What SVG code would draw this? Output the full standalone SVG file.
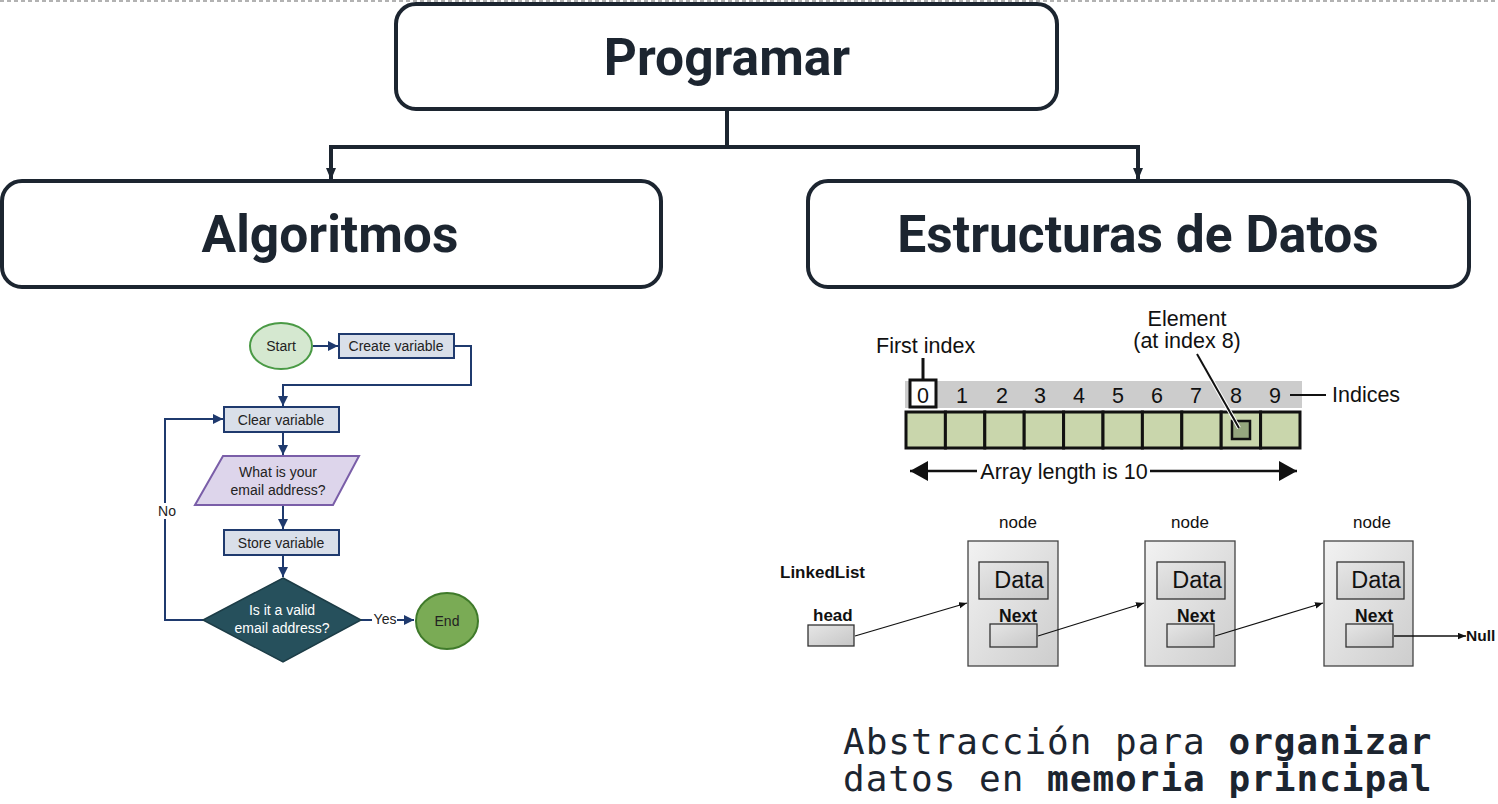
<svg xmlns="http://www.w3.org/2000/svg" width="1498" height="804" viewBox="0 0 1498 804">
<style>
.box{fill:#fff;stroke:#1c2530;stroke-width:4}
.big{font-family:Roboto,"Liberation Sans",sans-serif;font-weight:700;font-size:51.5px;fill:#1c2530;text-anchor:middle}
.conn{fill:none;stroke:#1c2530;stroke-width:4}
.fc{font-family:"Liberation Sans",Arial,sans-serif;font-size:14px;fill:#222;text-anchor:middle}
.fl{fill:none;stroke:#1f3a6e;stroke-width:2}
.rect{fill:#d9dfe9;stroke:#1f3a6e;stroke-width:2}
.arr{font-family:"Liberation Sans",Arial,sans-serif;font-size:21.5px;fill:#111}
.cell{fill:#c9d6ac;stroke:#111;stroke-width:3}
.ll{font-family:"Liberation Sans",Arial,sans-serif;fill:#111}
.nd{fill:url(#gn);stroke:#444;stroke-width:1.3}
.db{fill:url(#gd);stroke:#333;stroke-width:1.3}
.lk{fill:none;stroke:#111;stroke-width:1.3}
.mono{font-family:"DejaVu Sans Mono","Liberation Mono",monospace;font-size:36px;letter-spacing:1px;fill:#1c2530}
</style>
<defs>
<marker id="ah" viewBox="0 0 12 10" refX="12" refY="5" markerWidth="12" markerHeight="10" markerUnits="userSpaceOnUse" orient="auto">
<path d="M0,0 L12,5 L0,10 Z" fill="#1c2530"/>
</marker>
<marker id="fa" viewBox="0 0 10 10" refX="10" refY="5" markerWidth="10" markerHeight="10" markerUnits="userSpaceOnUse" orient="auto">
<path d="M0,0 L10,5 L0,10 Z" fill="#1f3a6e"/>
</marker>
<marker id="la" viewBox="0 0 10 8" refX="10" refY="4" markerWidth="8" markerHeight="7" markerUnits="userSpaceOnUse" orient="auto">
<path d="M0,0 L10,4 L0,8 Z" fill="#111"/>
</marker>
<marker id="ba" viewBox="0 0 18 20" refX="18" refY="10" markerWidth="18" markerHeight="20" markerUnits="userSpaceOnUse" orient="auto-start-reverse">
<path d="M0,0 L18,10 L0,20 Z" fill="#111"/>
</marker>
<linearGradient id="gn" x1="0" y1="0" x2="1" y2="1">
<stop offset="0" stop-color="#f2f2f2"/><stop offset="1" stop-color="#cdcdcd"/>
</linearGradient>
<linearGradient id="gd" x1="0" y1="0" x2="1" y2="1">
<stop offset="0" stop-color="#e6e6e6"/><stop offset="1" stop-color="#c6c6c6"/>
</linearGradient>
</defs>
<rect width="1498" height="804" fill="#fff"/>
<line x1="0" y1="1" x2="1498" y2="1" stroke="#999" stroke-width="1.5" stroke-dasharray="4,3"/>

<g id="connectors">
<path class="conn" d="M727,110 V147"/>
<path class="conn" d="M329,147 H1140"/>
<path class="conn" d="M331,147 V180" marker-end="url(#ah)"/>
<path class="conn" d="M1138,147 V180" marker-end="url(#ah)"/>
</g>

<g id="programar">
<rect class="box" x="396" y="4" width="661" height="105" rx="20"/>
<text class="big" x="727" y="75">Programar</text>
</g>
<g id="algoritmos">
<rect class="box" x="2" y="181" width="659" height="106" rx="20"/>
<text class="big" x="330" y="252">Algoritmos</text>
</g>
<g id="estructuras">
<rect class="box" x="808" y="181" width="661" height="106" rx="20"/>
<text class="big" x="1138" y="252">Estructuras de Datos</text>
</g>

<g id="flowchart">
<g id="fc-connectors">
<path class="fl" d="M313,346 H338" marker-end="url(#fa)"/>
<path class="fl" d="M454,346 H471 V385 H283 V406" marker-end="url(#fa)"/>
<path class="fl" d="M283,432 V455" marker-end="url(#fa)"/>
<path class="fl" d="M283,505 V529" marker-end="url(#fa)"/>
<path class="fl" d="M283,555 V577" marker-end="url(#fa)"/>
<path class="fl" d="M203,620 H165 V419 H223" marker-end="url(#fa)"/>
<path class="fl" d="M361,620 H372"/>
<path class="fl" d="M397,620 H414" marker-end="url(#fa)"/>
<rect x="156" y="503" width="22" height="16" fill="#fff"/>
<text class="fc" x="167" y="516" font-size="12">No</text>
<text class="fc" x="385" y="624" font-size="12">Yes</text>
</g>
<g id="fc-start">
<ellipse cx="281" cy="346" rx="31" ry="23" fill="#d5e8d0" stroke="#4a9a45" stroke-width="2"/>
<text class="fc" x="281" y="351">Start</text>
</g>
<g id="fc-create">
<rect class="rect" x="339" y="334" width="115" height="24"/>
<text class="fc" x="396" y="351">Create variable</text>
</g>
<g id="fc-clear">
<rect class="rect" x="224" y="407" width="115" height="25"/>
<text class="fc" x="281" y="424.5">Clear variable</text>
</g>
<g id="fc-input">
<polygon points="223,456 359,456 333,505 195,505" fill="#ddd5eb" stroke="#7a5ea8" stroke-width="2"/>
<text class="fc" x="278" y="477">What is your</text>
<text class="fc" x="278" y="495">email address?</text>
</g>
<g id="fc-store">
<rect class="rect" x="224" y="530" width="115" height="25"/>
<text class="fc" x="281" y="547.5">Store variable</text>
</g>
<g id="fc-decision">
<polygon points="283,578 361,620 283,662 203,620" fill="#26505c" stroke="#1c3c46" stroke-width="1.5"/>
<text class="fc" x="282" y="615" style="fill:#fff">Is it a valid</text>
<text class="fc" x="282" y="633" style="fill:#fff">email address?</text>
</g>
<g id="fc-end">
<ellipse cx="447" cy="621" rx="31" ry="28" fill="#7aab55" stroke="#3f7a2a" stroke-width="2"/>
<text class="fc" x="447" y="626">End</text>
</g>
</g>

<g id="array">
<text class="arr" x="876" y="353">First index</text>
<rect x="905" y="381" width="397" height="27" fill="#cccccc"/>
<line x1="923" y1="358" x2="923" y2="379" stroke="#111" stroke-width="3"/>
<rect x="910" y="380" width="26" height="27" fill="#fff" stroke="#111" stroke-width="3"/>
<g class="arr" text-anchor="middle">
<text x="923" y="403">0</text>
<text x="962" y="403">1</text>
<text x="1002" y="403">2</text>
<text x="1040" y="403">3</text>
<text x="1079" y="403">4</text>
<text x="1118" y="403">5</text>
<text x="1157" y="403">6</text>
<text x="1196" y="403">7</text>
<text x="1236" y="403">8</text>
<text x="1275" y="403">9</text>
</g>
<line x1="1290" y1="395" x2="1326" y2="395" stroke="#111" stroke-width="2"/>
<text class="arr" x="1332" y="402">Indices</text>
<g>
<rect class="cell" x="906" y="412" width="39.4" height="36"/>
<rect class="cell" x="945.4" y="412" width="39.4" height="36"/>
<rect class="cell" x="984.8" y="412" width="39.4" height="36"/>
<rect class="cell" x="1024.2" y="412" width="39.4" height="36"/>
<rect class="cell" x="1063.6" y="412" width="39.4" height="36"/>
<rect class="cell" x="1103" y="412" width="39.4" height="36"/>
<rect class="cell" x="1142.4" y="412" width="39.4" height="36"/>
<rect class="cell" x="1181.8" y="412" width="39.4" height="36"/>
<rect class="cell" x="1221.2" y="412" width="39.4" height="36"/>
<rect class="cell" x="1260.6" y="412" width="39.4" height="36"/>
</g>
<rect x="1232" y="421" width="18" height="18" fill="#95a67e" stroke="#111" stroke-width="2.5"/>
<text class="arr" x="1187" y="326" text-anchor="middle" font-size="20.5">Element</text>
<text class="arr" x="1187" y="348" text-anchor="middle" font-size="20.5">(at index 8)</text>
<line x1="1197" y1="354" x2="1239" y2="428" stroke="#fff" stroke-width="4"/>
<line x1="1197" y1="354" x2="1239" y2="428" stroke="#111" stroke-width="2"/>
<line x1="910" y1="471" x2="977" y2="471" stroke="#111" stroke-width="2.5" marker-start="url(#ba)"/>
<line x1="1150" y1="471" x2="1297" y2="471" stroke="#111" stroke-width="2.5" marker-end="url(#ba)"/>
<text class="arr" x="1064" y="479" text-anchor="middle">Array length is 10</text>
</g>

<g id="linkedlist">
<text class="ll" x="780" y="578" font-size="17" font-weight="700">LinkedList</text>
<g id="ll-head">
<text class="ll" x="813" y="621" font-size="17" font-weight="700">head</text>
<rect class="db" x="808" y="625" width="46" height="21"/>
</g>
<g id="ll-node1">
<text class="ll" x="1018" y="528" font-size="17" text-anchor="middle">node</text>
<rect class="nd" x="968" y="541" width="90" height="125"/>
<rect class="db" x="979" y="562" width="69" height="37"/>
<text class="ll" x="1019" y="588" font-size="23.5" text-anchor="middle">Data</text>
<text class="ll" x="1018" y="622" font-size="17.5" font-weight="700" text-anchor="middle">Next</text>
<rect class="db" x="990" y="624" width="47" height="23"/>
</g>
<g id="ll-node2">
<text class="ll" x="1190" y="528" font-size="17" text-anchor="middle">node</text>
<rect class="nd" x="1145" y="541" width="90" height="125"/>
<rect class="db" x="1157" y="562" width="68" height="37"/>
<text class="ll" x="1197" y="588" font-size="23.5" text-anchor="middle">Data</text>
<text class="ll" x="1196" y="622" font-size="17.5" font-weight="700" text-anchor="middle">Next</text>
<rect class="db" x="1167" y="624" width="47" height="23"/>
</g>
<g id="ll-node3">
<text class="ll" x="1372" y="528" font-size="17" text-anchor="middle">node</text>
<rect class="nd" x="1324" y="541" width="89" height="125"/>
<rect class="db" x="1337" y="562" width="67" height="37"/>
<text class="ll" x="1376" y="588" font-size="23.5" text-anchor="middle">Data</text>
<text class="ll" x="1374" y="622" font-size="17.5" font-weight="700" text-anchor="middle">Next</text>
<rect class="db" x="1346" y="624" width="47" height="23"/>
</g>
<g id="ll-connectors">
<line class="lk" x1="855" y1="636" x2="967" y2="603" marker-end="url(#la)"/>
<line class="lk" x1="1038" y1="636" x2="1144" y2="603" marker-end="url(#la)"/>
<line class="lk" x1="1215" y1="636" x2="1323" y2="603" marker-end="url(#la)"/>
<line class="lk" x1="1394" y1="636" x2="1466" y2="636" marker-end="url(#la)"/>
</g>
<text class="ll" x="1466" y="641" font-size="15.5" font-weight="700">Null</text>
</g>

<g id="caption">
<text class="mono" x="843" y="754">Abstracción para <tspan font-weight="700">organizar</tspan></text>
<text class="mono" x="843" y="791">datos en <tspan font-weight="700">memoria principal</tspan></text>
</g>
</svg>
